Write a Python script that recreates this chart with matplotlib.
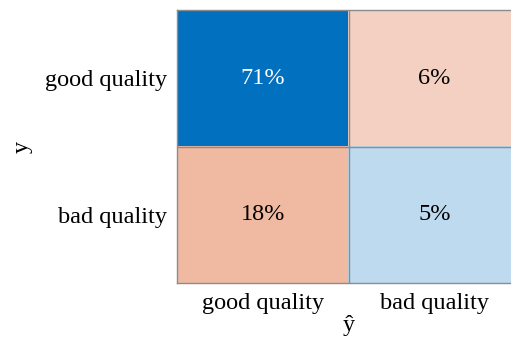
import matplotlib
matplotlib.use("Agg")
import matplotlib.pyplot as plt
from matplotlib.colors import to_rgb
import numpy as np

labels = ["good quality", "bad quality"]
# rows: true class, cols: predicted class (percent)
pct = np.array([[71, 6],
                [18, 5]])
cell_colors = [["#0070bf", "#f4d0c2"],
               ["#f0b9a1", "#bedaee"]]

plt.rcParams["font.family"] = ["Liberation Serif", "DejaVu Serif"]

fig = plt.figure(figsize=(5.11, 3.47), dpi=100)
ax = fig.add_axes([177 / 511, 1 - 283 / 347, 343 / 511, 273 / 347])

rgb = np.array([[to_rgb(c) for c in row] for row in cell_colors])
ax.imshow(rgb, aspect="auto", interpolation="nearest")

for i in range(pct.shape[0]):
    for j in range(pct.shape[1]):
        col = "white" if pct[i, j] > 50 else "black"
        ax.text(j, i, f"{pct[i, j]}%", ha="center", va="center",
                fontsize=17.5, color=col)

# cell borders
ax.axhline(0.5, color="#8c8c8c", lw=1)
ax.axvline(0.5, color="#8c8c8c", lw=1)
for s in ax.spines.values():
    s.set_color("#8c8c8c")
    s.set_linewidth(1)

ax.set_xticks(range(len(labels)))
ax.set_xticklabels(labels, fontsize=17.5)
ax.set_yticks(range(len(labels)))
ax.set_yticklabels(labels, fontsize=17.5)
ax.tick_params(length=0, pad=7)
ax.set_xlabel("ŷ", fontsize=17.5, labelpad=1)
ax.set_ylabel("y", fontsize=17.5, labelpad=9)

fig.savefig("out.png", dpi=100)
